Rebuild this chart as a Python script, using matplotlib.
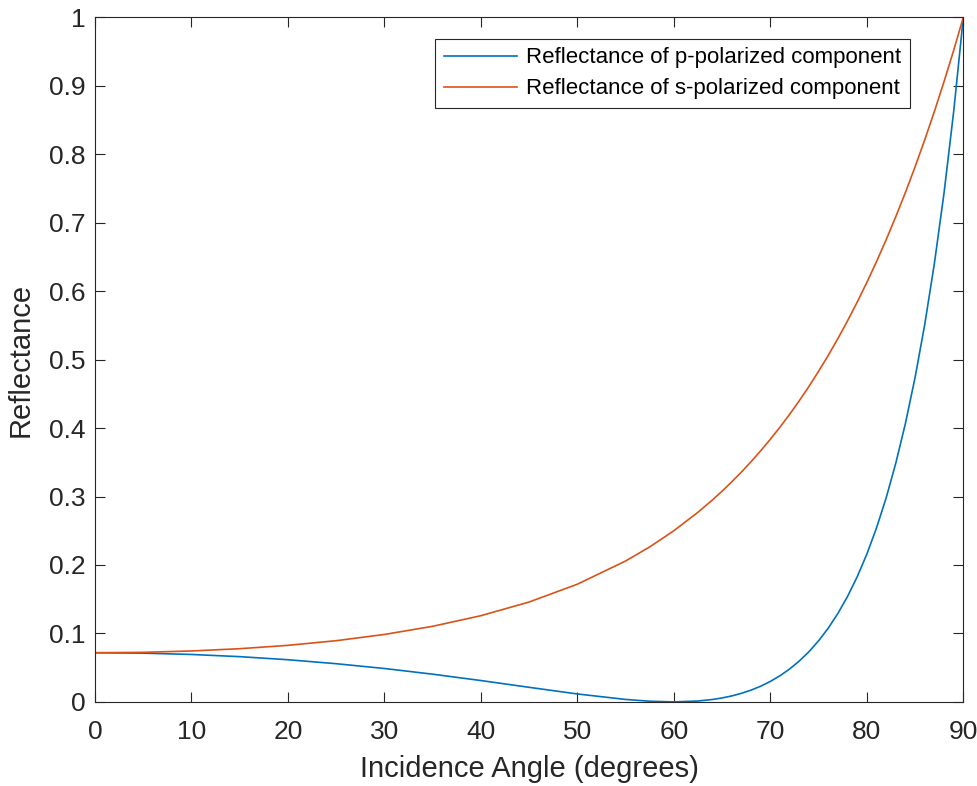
import matplotlib
matplotlib.use("Agg")
import matplotlib.pyplot as plt

# Values (angle in degrees, reflectance)
angle_deg = [0, 5, 10, 15, 20, 25, 30, 35, 40, 45, 50, 55, 57.5, 60, 62.5,
             64, 65, 66, 67, 68, 69, 70, 71, 72, 73, 74, 75, 76, 77, 78, 79,
             80, 81, 82, 83, 84, 85, 86, 87, 88, 89, 90]
refl_p = [0.0718, 0.0712, 0.0693, 0.0661, 0.0616, 0.0558, 0.0488, 0.0405,
          0.0312, 0.0213, 0.0116, 0.0036, 0.0010, 0.0, 0.0013,
          0.0035, 0.0058, 0.0087, 0.0125, 0.0172, 0.0229, 0.0299, 0.0382,
          0.0481, 0.0597, 0.0733, 0.0892, 0.1077, 0.1292, 0.1540, 0.1827,
          0.2158, 0.2540, 0.2979, 0.3486, 0.4068, 0.4739, 0.5512, 0.6404,
          0.7433, 0.8623, 1.0]
refl_s = [0.0718, 0.0724, 0.0744, 0.0777, 0.0826, 0.0894, 0.0985, 0.1104,
          0.1259, 0.1459, 0.1719, 0.2058, 0.2264, 0.25, 0.2770,
          0.2950, 0.3078, 0.3214, 0.3357, 0.3508, 0.3668, 0.3836, 0.4014,
          0.4201, 0.4399, 0.4608, 0.4829, 0.5061, 0.5307, 0.5566, 0.5839,
          0.6127, 0.6430, 0.6750, 0.7087, 0.7442, 0.7816, 0.8210, 0.8624,
          0.9060, 0.9518, 1.0]

plt.rcParams['font.family'] = ['Liberation Sans', 'DejaVu Sans']

fig = plt.figure(figsize=(9.78, 7.86), dpi=100)
ax = fig.add_axes([0.097, 0.107, 0.888, 0.871])

ax.plot(angle_deg, refl_p, color='#0072BD', lw=1.2,
        label='Reflectance of p-polarized component')
ax.plot(angle_deg, refl_s, color='#D95319', lw=1.2,
        label='Reflectance of s-polarized component')

ax.set_xlim(0, 90)
ax.set_ylim(0, 1)
ax.set_xticks(range(0, 91, 10))
ax.set_yticks([i / 10 for i in range(11)])
ax.set_yticklabels(['0'] + [f'{i/10:g}' for i in range(1, 10)] + ['1'])

ax.tick_params(direction='in', top=True, right=True, length=7, width=0.8,
               labelsize=19, colors='#262626')
ax.tick_params(axis='x', pad=13)
ax.tick_params(axis='y', pad=7)
for sp in ax.spines.values():
    sp.set_color('#262626')
    sp.set_linewidth(0.8)

ax.set_xlabel('Incidence Angle (degrees)', fontsize=21, color='#262626',
              labelpad=8)
ax.set_ylabel('Reflectance', fontsize=21, color='#262626', labelpad=10)

leg = ax.legend(loc='upper right', bbox_to_anchor=(0.939, 0.969), fontsize=16,
                fancybox=False, framealpha=1, edgecolor='#262626',
                handlelength=3.3, borderpad=0.4, labelspacing=0.45,
                handletextpad=0.4, borderaxespad=0)
leg.get_frame().set_linewidth(0.8)

plt.savefig('out.png', dpi=100)
